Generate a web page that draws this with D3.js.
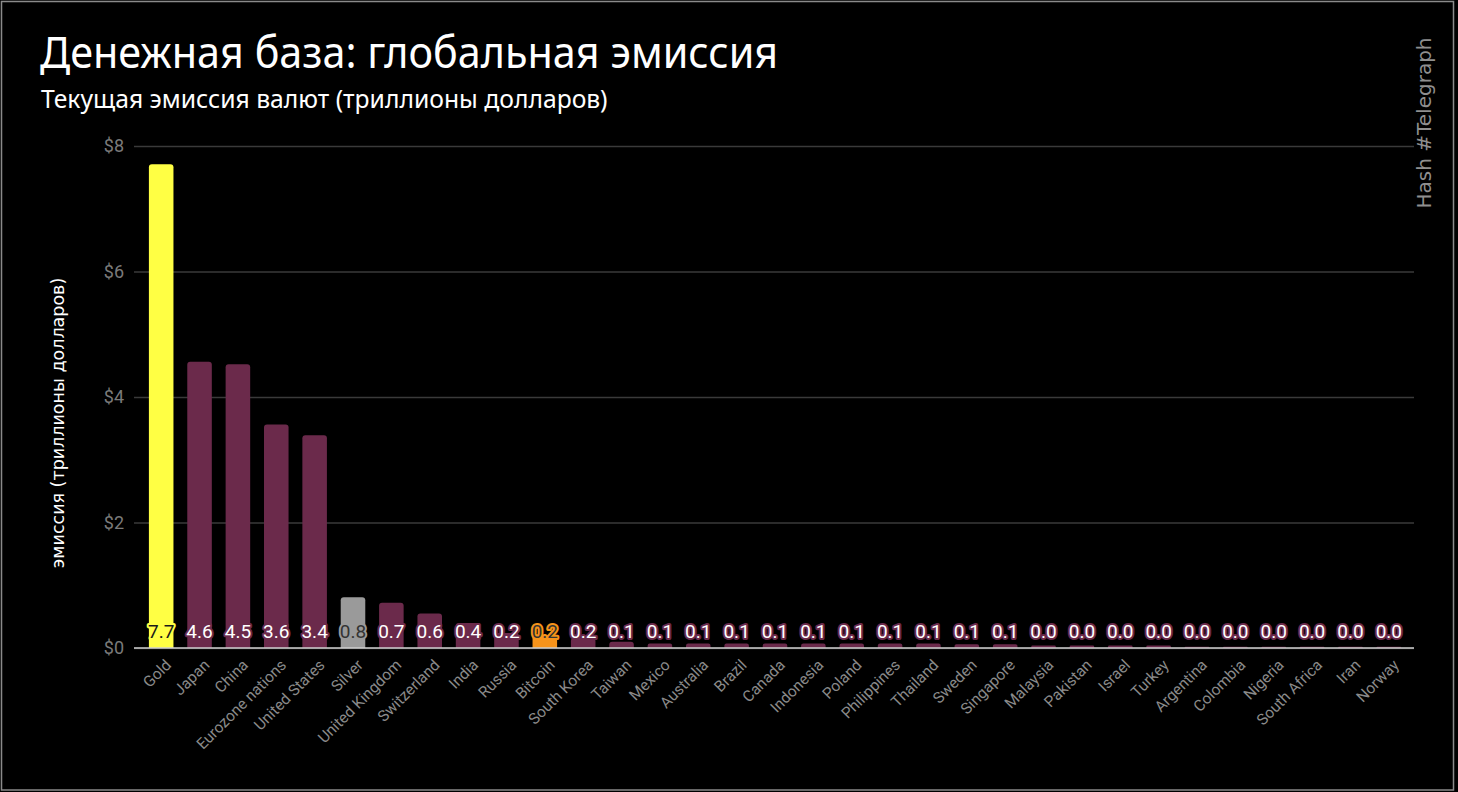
<!DOCTYPE html>
<html>
<head>
<meta charset="utf-8">
<script src="https://cdn.jsdelivr.net/npm/d3@7"></script>
<style>
  html, body { margin: 0; padding: 0; background: #000; }
  svg { display: block; }
</style>
</head>
<body>
<svg id="chart" width="1458" height="792"></svg>
<script>
// data
var categories = ["Gold", "Japan", "China", "Eurozone nations", "United States", "Silver",
  "United Kingdom", "Switzerland", "India", "Russia", "Bitcoin", "South Korea", "Taiwan",
  "Mexico", "Australia", "Brazil", "Canada", "Indonesia", "Poland", "Philippines", "Thailand",
  "Sweden", "Singapore", "Malaysia", "Pakistan", "Israel", "Turkey", "Argentina", "Colombia",
  "Nigeria", "South Africa", "Iran", "Norway"];
var values = [7.71, 4.56, 4.52, 3.56, 3.39, 0.81, 0.72, 0.55, 0.40, 0.24, 0.20, 0.16, 0.10,
  0.07, 0.07, 0.07, 0.07, 0.07, 0.07, 0.07, 0.07, 0.06, 0.06, 0.04, 0.04, 0.04, 0.04,
  0.02, 0.02, 0.02, 0.02, 0.02, 0.02];
var yTicks = [0, 2, 4, 6, 8];

var svg = d3.select("#chart");

// frame
svg.append("rect").attr("x", 1.5).attr("y", 1.5).attr("width", 1452).attr("height", 788.5)
  .attr("fill", "#000").attr("stroke", "#8a8a8a").attr("stroke-width", 1.5);

var x = d3.scaleBand().domain(categories).range([142, 1408]).paddingInner(0.36).paddingOuter(0.18);
var y = d3.scaleLinear().domain([0, 8]).range([648, 146]);

function barColor(name) {
  if (name == "Gold") return "#ffff44";
  if (name == "Silver") return "#9a9a9a";
  if (name == "Bitcoin") return "#f7931a";
  return "#6b2a4b";
}
function labelColor(name) {
  if (name == "Gold") return "#1a1a1a";
  if (name == "Silver") return "#333";
  if (name == "Bitcoin") return "#333";
  return "#ffffff";
}

// gridlines
svg.append("g")
  .attr("transform", "translate(134,0)")
  .call(d3.axisLeft(y).tickValues(yTicks).tickSize(-1280).tickFormat(function(d){ return "$" + d; }))
  .call(function(g){
    g.select(".domain").remove();
    g.selectAll(".tick line").attr("stroke", "#3a3a3a").attr("stroke-width", 1.3);
    g.selectAll(".tick text").attr("x", -10).attr("fill", "#7a7a7a")
      .style("font-family", "Roboto").style("font-size", "18px");
  });

// bars
svg.append("g").selectAll("path")
  .data(values)
  .enter()
  .append("path")
  .attr("d", function(d, i){
    var x0 = x(categories[i]), w = x.bandwidth(), y0 = y(d), h = 648 - y0;
    var r = Math.min(3, h / 2, w / 2);
    return "M" + x0 + ",648V" + (y0 + r) + "Q" + x0 + "," + y0 + " " + (x0 + r) + "," + y0 +
      "H" + (x0 + w - r) + "Q" + (x0 + w) + "," + y0 + " " + (x0 + w) + "," + (y0 + r) + "V648Z";
  })
  .style("fill", function(d, i){ return barColor(categories[i]); });

// baseline + category labels
svg.append("g")
  .attr("transform", "translate(0,648)")
  .call(d3.axisBottom(x).tickSize(0))
  .call(function(g){
    g.select(".domain").attr("stroke", "#cfcfcf").attr("stroke-width", 1.5)
      .attr("d", "M134,0H1414");
    g.selectAll(".tick text")
      .attr("fill", "#8a8a8a")
      .style("font-family", "Roboto").style("font-size", "15.5px")
      .attr("text-anchor", "end")
      .attr("y", 0).attr("dy", 0)
      .attr("transform", "translate(11,18) rotate(-45)");
  });

// value labels
svg.append("g").selectAll("text")
  .data(values)
  .enter()
  .append("text")
  .attr("x", function(d, i){ return x(categories[i]) + x.bandwidth() / 2; })
  .attr("y", 638)
  .attr("text-anchor", "middle")
  .style("font-family", "Roboto").style("font-size", "19px")
  .style("paint-order", "stroke")
  .attr("stroke", function(d, i){ return barColor(categories[i]); })
  .attr("stroke-width", 4)
  .attr("stroke-linejoin", "round")
  .attr("fill", function(d, i){ return labelColor(categories[i]); })
  .text(function(d){ return d3.format(".1f")(d); });

// titles
svg.append("text").attr("transform", "translate(40,68) scale(0.94,1)")
  .attr("fill", "#fff").style("font-family", "Noto Sans").style("font-size", "44px")
  .text("Денежная база: глобальная эмиссия");
svg.append("text").attr("transform", "translate(41,108) scale(0.988,1)")
  .attr("fill", "#fff").style("font-family", "Noto Sans").style("font-size", "25px")
  .text("Текущая эмиссия валют (триллионы долларов)");

svg.append("text")
  .attr("transform", "translate(64,423) rotate(-90)")
  .attr("text-anchor", "middle")
  .attr("fill", "#fff").style("font-family", "DejaVu Sans").style("font-size", "17.5px")
  .text("эмиссия  (триллионы долларов)");

svg.append("text")
  .attr("transform", "translate(1431,123) rotate(-90)")
  .attr("text-anchor", "middle")
  .attr("fill", "#8f8f8f").style("font-family", "DejaVu Sans").style("font-size", "20px")
  .text("Hash #Telegraph");
</script>
</body>
</html>
